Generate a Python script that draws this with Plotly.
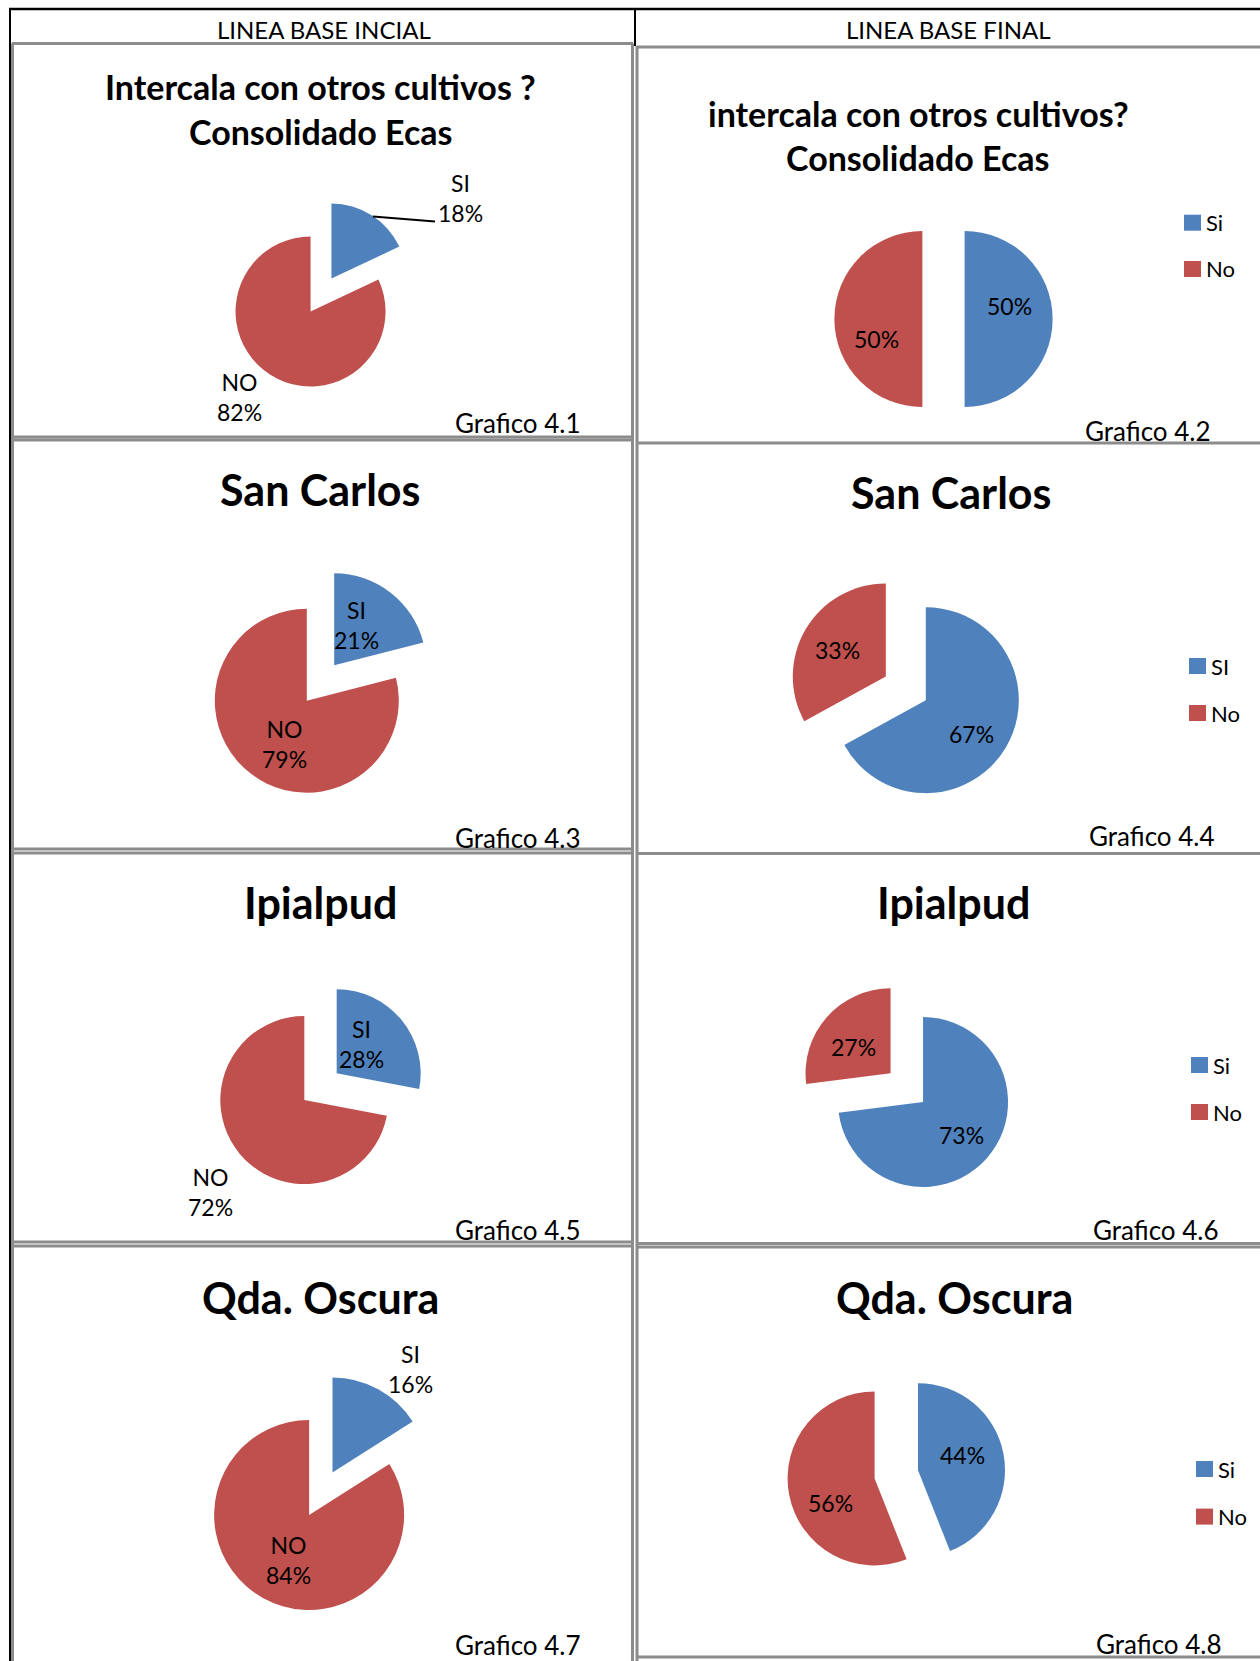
import plotly.graph_objects as go

W, H = 1260, 1661

# ---------------- data ----------------
titles = [
    ["Intercala con otros cultivos ?", "Consolidado Ecas"],
    ["intercala con otros cultivos?", "Consolidado Ecas"],
    ["San Carlos"], ["San Carlos"],
    ["Ipialpud"], ["Ipialpud"],
    ["Qda. Oscura"], ["Qda. Oscura"],
]
labels = [
    ["SI", "NO"], ["Si", "No"],
    ["SI", "NO"], ["SI", "No"],
    ["SI", "NO"], ["Si", "No"],
    ["SI", "NO"], ["Si", "No"],
]
values = [
    [18, 82], [50, 50],
    [21, 79], [67, 33],
    [28, 72], [73, 27],
    [16, 84], [44, 56],
]
captions = ["Grafico 4.1", "Grafico 4.2", "Grafico 4.3", "Grafico 4.4",
            "Grafico 4.5", "Grafico 4.6", "Grafico 4.7", "Grafico 4.8"]
headers = ["LINEA BASE INCIAL", "LINEA BASE FINAL"]
show_label_name = [True, False, True, False, True, False, True, False]
colors = ["#4F81BD", "#C0504D"]

# ---------------- layout config (pixel positions) ----------------
# pie: centre x, centre y, radius, pull
pies = [
    (321, 295, 75, 0.26), (943.5, 319, 88, 0.24),
    (320.5, 683, 92, 0.243), (905.8, 688.3, 93, 0.25),
    (320.5, 1086.7, 84, 0.25), (906.8, 1087.7, 85, 0.255),
    (320.8, 1493.7, 95, 0.255), (896.3, 1474.3, 87, 0.254),
]
# label positions (slice 0, slice 1)
label_pos = [
    [(461, 198), (239, 397)], [(1009, 306), (876, 339)],
    [(356, 625), (284, 744)], [(971, 734), (837, 650)],
    [(361, 1044), (211, 1192)], [(961, 1135), (853, 1047)],
    [(410, 1369), (288, 1560)], [(963, 1455), (830, 1503)],
]
title_pos = [
    [(320, 87), (320, 132)], [(918, 113), (917, 158)],
    [(320, 490)], [(951, 492)],
    [(320, 903)], [(953, 903)],
    [(320, 1297)], [(954, 1297)],
]
title_size = [34, 34, 43, 43, 43, 43, 43, 43]
caption_pos = [(518, 423), (1148, 431), (518, 838), (1152, 836),
               (518, 1230), (1156, 1230), (518, 1645), (1159, 1644)]
# legends for right-hand charts: (square x0, y of first item, spacing)
legend_pos = {1: (1184, 222.7, 46.3), 3: (1189, 666, 47),
              5: (1191, 1065, 47), 7: (1196, 1469, 47.6)}

FONT = "Lato"


def X(p):
    return p / W


def Y(p):
    return 1 - p / H


fig = go.Figure()
annotations = []
shapes = []

for i in range(8):
    cx, cy, r, pull = pies[i]
    half = r * (1 + pull)
    fig.add_trace(go.Pie(
        labels=labels[i], values=values[i],
        marker=dict(colors=colors, line=dict(width=0)),
        sort=False, direction="clockwise", rotation=0,
        pull=[pull, pull], textinfo="none", showlegend=False,
        domain=dict(x=[X(cx - half), X(cx + half)],
                    y=[Y(cy + half), Y(cy - half)]),
        name=captions[i],
    ))
    # data labels
    for j in range(2):
        lx, ly = label_pos[i][j]
        txt = f"{values[i][j]}%"
        if show_label_name[i]:
            txt = f"{labels[i][j]}<br>{values[i][j]}%"
        annotations.append(dict(
            x=X(lx), y=Y(ly), xref="paper", yref="paper", text=txt,
            showarrow=False, xanchor="center", yanchor="middle",
            font=dict(family=FONT, size=23, color="black"), align="center"))
    # titles
    for line, (tx, ty) in zip(titles[i], title_pos[i]):
        annotations.append(dict(
            x=X(tx), y=Y(ty), xref="paper", yref="paper",
            text=f"<b>{line}</b>", showarrow=False,
            xanchor="center", yanchor="middle",
            font=dict(family=FONT, size=title_size[i], color="black")))
    # captions
    gx, gy = caption_pos[i]
    annotations.append(dict(
        x=X(gx), y=Y(gy), xref="paper", yref="paper", text=captions[i],
        showarrow=False, xanchor="center", yanchor="middle",
        font=dict(family=FONT, size=26, color="black")))
    # legends
    if i in legend_pos:
        sx, sy, gap = legend_pos[i]
        for j in range(2):
            yy = sy + j * gap
            shapes.append(dict(type="rect", xref="paper", yref="paper",
                               x0=X(sx), x1=X(sx + 17), y0=Y(yy - 8), y1=Y(yy + 8),
                               fillcolor=colors[j], line=dict(width=0)))
            annotations.append(dict(
                x=X(sx + 20), y=Y(yy), xref="paper", yref="paper",
                text=labels[i][j], showarrow=False,
                xanchor="left", yanchor="middle",
                font=dict(family=FONT, size=22, color="black")))

# leader line for chart 4.1
shapes.append(dict(type="line", xref="paper", yref="paper",
                   x0=X(373), y0=Y(216.5), x1=X(435), y1=Y(221.5),
                   line=dict(color="black", width=2)))

# header texts
for htxt, hx in zip(headers, [324, 948]):
    annotations.append(dict(
        x=X(hx), y=Y(30), xref="paper", yref="paper", text=htxt,
        showarrow=False, xanchor="center", yanchor="middle",
        font=dict(family=FONT, size=24, color="black")))

GREY = "#8c8c8c"


def hline(x0, x1, y, color=GREY, width=3):
    shapes.append(dict(type="line", xref="paper", yref="paper",
                       x0=X(x0), x1=X(x1), y0=Y(y), y1=Y(y),
                       line=dict(color=color, width=width)))


def vline(x, y0, y1, color=GREY, width=3):
    shapes.append(dict(type="line", xref="paper", yref="paper",
                       x0=X(x), x1=X(x), y0=Y(y0), y1=Y(y1),
                       line=dict(color=color, width=width)))


# table outer lines (black)
hline(9, 1260, 9, color="black", width=2.5)
vline(10, 8, 1661, color="black", width=2)
vline(635, 8, 46, color="black", width=2)

# left column cell borders
for yy in [43.5, 437, 440, 849, 853, 1242, 1246]:
    hline(12, 633, yy)
vline(12.5, 43.5, 1661)
vline(632.5, 43.5, 1661)
# right column cell borders
for yy in [47, 443, 853.5, 1243.5, 1247, 1657]:
    hline(636.5, 1260, yy)
vline(637, 46, 1661)

fig.update_layout(
    width=W, height=H,
    margin=dict(l=0, r=0, t=0, b=0),
    paper_bgcolor="white", plot_bgcolor="white",
    annotations=annotations, shapes=shapes,
    showlegend=False,
    font=dict(family=FONT),
)

fig.write_html(
    "out.html",
    config={"displayModeBar": False},
    post_script="document.body.style.margin='0px';document.body.style.overflow='hidden';",
)
